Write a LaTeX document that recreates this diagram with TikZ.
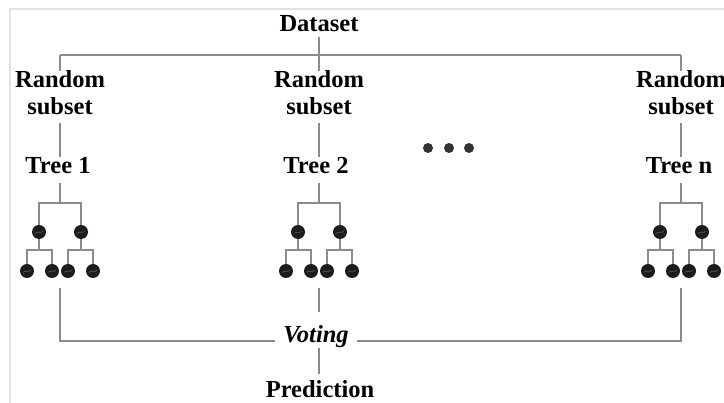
\documentclass[tikz,border=0pt]{standalone}
\usepackage{fontspec}
\setmainfont{Liberation Serif}
\usetikzlibrary{calc}
\definecolor{linegray}{HTML}{8C8C8C}
\definecolor{framegray}{HTML}{E3E3E3}
\definecolor{balldark}{HTML}{1C1C1C}
\tikzset{
  lbl/.style={font=\bfseries\fontsize{24.5}{27}\selectfont, inner sep=0pt, align=center, anchor=base},
  conn/.style={draw=linegray, line width=1.1pt},
  tline/.style={draw=linegray, line width=1.4pt},
  ball/.style={circle, fill=balldark, minimum size=14pt, inner sep=0pt,
    path picture={\draw[gray!70!black, line width=0.6pt]
      ([xshift=-4pt,yshift=-1.5pt]path picture bounding box.center)
      .. controls +(1.5pt,3pt) and +(-1.5pt,-3pt) .. +(8pt,2.5pt);}},
  dot/.style={circle, fill=balldark!90, minimum size=10pt, inner sep=0pt},
  pics/rtree/.style={code={
    \coordinate (-root) at (0,0);
    \node[ball] (-a) at (-21,29) {};
    \node[ball] (-b) at (21,29) {};
    \node[ball] (-aa) at (-33,68) {};
    \node[ball] (-ab) at (-8,68) {};
    \node[ball] (-ba) at (8,68) {};
    \node[ball] (-bb) at (33,68) {};
    \coordinate (-am) at (-21,47);
    \coordinate (-bm) at (21,47);
    \draw[tline] (-a.north) |- (-root) -| (-b.north);
    \draw[tline] (-a.south) -- (-am);
    \draw[tline] (-b.south) -- (-bm);
    \draw[tline] (-aa.north) |- (-am) -| (-ab.north);
    \draw[tline] (-ba.north) |- (-bm) -| (-bb.north);
  }}
}
\begin{document}
\begin{tikzpicture}[x=1pt, y=-1pt]
  \useasboundingbox (0,0) rectangle (724,403);
  \clip (0,0) rectangle (724,403);
  \fill[white] (0,0) rectangle (724,403);
  % light frame
  \draw[framegray, line width=1.6pt] (10,420) -- (10,9) -- (740,9);

  % labels (a two-line node sits on the baseline of its last line)
  \node[lbl] (ds) at (319,32) {Dataset};
  \node[lbl] (rs1) at (60,115) {Random\\subset};
  \node[lbl] (rs2) at (319,115) {Random\\subset};
  \node[lbl] (rs3) at (681,115) {Random\\subset};
  \node[lbl] (t1) at (58,174) {Tree 1};
  \node[lbl] (t2) at (316,174) {Tree 2};
  \node[lbl] (t3) at (679,174) {Tree n};
  \node[lbl, font=\bfseries\itshape\fontsize{24.5}{27}\selectfont, inner xsep=8pt] (vote) at (316,343) {Voting};
  \node[lbl] (pred) at (320,398) {Prediction};

  % the three ellipsis dots
  \node[dot] (d1) at (428,148) {};
  \node[dot] (d2) at (449,148) {};
  \node[dot] (d3) at (469,148) {};

  % trees
  \pic (tr1) at (60,203) {rtree};
  \pic (tr2) at (319,203) {rtree};
  \pic (tr3) at (681,203) {rtree};

  % dataset split
  \coordinate (top1) at (60,55);
  \coordinate (top3) at (681,55);
  \draw[conn] (top1) -- (top3);
  \draw[conn] (top1) -- (rs1.north);
  \draw[conn] (top3) -- (rs3.north);
  \draw[conn, shorten <=5pt] (ds.south) -- (rs2.north);

  % subsets to trees
  \foreach \i in {1,2,3}{
    \draw[conn, shorten <=8pt, shorten >=1pt] (rs\i.south -| tr\i-root) -- (t\i.north -| tr\i-root);
    \draw[conn, shorten <=9pt] (t\i.south -| tr\i-root) -- (tr\i-root);
  }

  % voting
  \coordinate (b1) at (60,288);
  \coordinate (b2) at (319,288);
  \coordinate (b3) at (681,288);
  \draw[conn] (b1) |- ([yshift=2pt]vote.base west);
  \draw[conn] (b3) |- ([yshift=2pt]vote.base east);
  \draw[conn, shorten >=14pt] (b2) -- (b2 |- vote.north);
  \draw[conn, shorten >=7pt] (319,348) -- (pred.north -| 319,0);
\end{tikzpicture}
\end{document}
